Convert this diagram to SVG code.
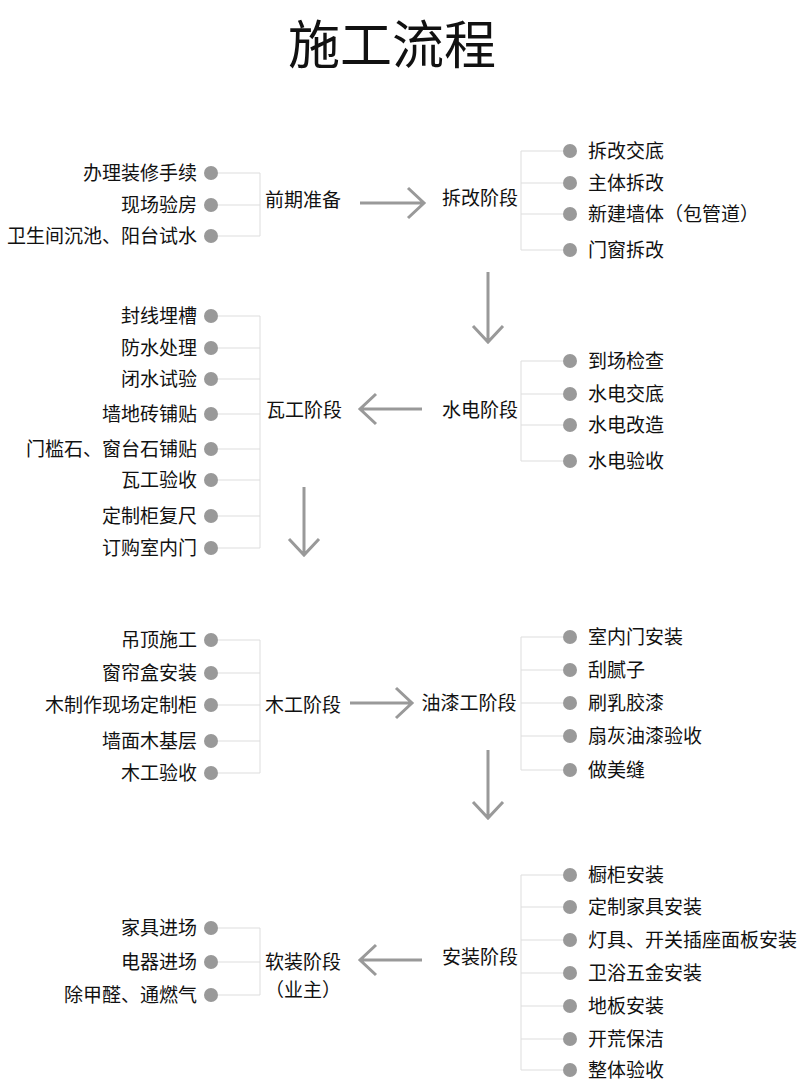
<svg xmlns="http://www.w3.org/2000/svg" width="800" height="1083" viewBox="0 0 800 1083">
<style>
text{font-family:"Noto Sans CJK SC","Noto Sans",sans-serif;fill:#111;font-size:19px}
.l{text-anchor:end}
.d{fill:#999}
.b{stroke:#ddd;stroke-width:1;fill:none}
.a{stroke:#999;stroke-width:3;fill:none}
</style>
<rect width="800" height="1083" fill="#fff"/>
<text x="392" y="64" text-anchor="middle" style="font-size:52px">施工流程</text>
<g id="connectors">
<path class="b" d="M218 173H260M218 205H260M218 236H260M260 173V236"/>
<path class="b" d="M521 151H563M521 183H563M521 214H563M521 250H563M521 151V250"/>
<path class="b" d="M521 361H563M521 394H563M521 425H563M521 461H563M521 361V461"/>
<path class="b" d="M218 316H260M218 348H260M218 379H260M218 414H260M218 449H260M218 480H260M218 516H260M218 548H260M260 316V548"/>
<path class="b" d="M218 640H260M218 673H260M218 705H260M218 741H260M218 773H260M260 640V773"/>
<path class="b" d="M521 637H563M521 670H563M521 703H563M521 736H563M521 770H563M521 637V770"/>
<path class="b" d="M521 875H563M521 907H563M521 940H563M521 973H563M521 1006H563M521 1039H563M521 1070H563M521 875V1070"/>
<path class="b" d="M218 928H260M218 962H260M218 995H260M260 928V995"/>
<path class="a" d="M360 203H424M408 188L424 203L408 218"/>
<path class="a" d="M488 272V342M473 326L488 342L503 326"/>
<path class="a" d="M422 409H360M376 394L360 409L376 424"/>
<path class="a" d="M304 487V555M289 539L304 555L319 539"/>
<path class="a" d="M350 703H412M396 688L412 703L396 718"/>
<path class="a" d="M488 750V818M473 802L488 818L503 802"/>
<path class="a" d="M422 960H360M376 945L360 960L376 975"/>
</g>
<g id="n1"><text x="303" y="207" text-anchor="middle">前期准备</text>
<circle class="d" cx="211" cy="173" r="7"/><text class="l" x="197" y="180">办理装修手续</text>
<circle class="d" cx="211" cy="205" r="7"/><text class="l" x="197" y="212">现场验房</text>
<circle class="d" cx="211" cy="236" r="7"/><text class="l" x="197" y="243">卫生间沉池、阳台试水</text></g>
<g id="n2"><text x="480" y="205" text-anchor="middle">拆改阶段</text>
<circle class="d" cx="570" cy="151" r="7"/><text x="588" y="158">拆改交底</text>
<circle class="d" cx="570" cy="183" r="7"/><text x="588" y="190">主体拆改</text>
<circle class="d" cx="570" cy="214" r="7"/><text x="588" y="221">新建墙体（包管道）</text>
<circle class="d" cx="570" cy="250" r="7"/><text x="588" y="257">门窗拆改</text></g>
<g id="n3"><text x="480" y="417" text-anchor="middle">水电阶段</text>
<circle class="d" cx="570" cy="361" r="7"/><text x="588" y="368">到场检查</text>
<circle class="d" cx="570" cy="394" r="7"/><text x="588" y="401">水电交底</text>
<circle class="d" cx="570" cy="425" r="7"/><text x="588" y="432">水电改造</text>
<circle class="d" cx="570" cy="461" r="7"/><text x="588" y="468">水电验收</text></g>
<g id="n4"><text x="304" y="417" text-anchor="middle">瓦工阶段</text>
<circle class="d" cx="211" cy="316" r="7"/><text class="l" x="197" y="323">封线埋槽</text>
<circle class="d" cx="211" cy="348" r="7"/><text class="l" x="197" y="355">防水处理</text>
<circle class="d" cx="211" cy="379" r="7"/><text class="l" x="197" y="386">闭水试验</text>
<circle class="d" cx="211" cy="414" r="7"/><text class="l" x="197" y="421">墙地砖铺贴</text>
<circle class="d" cx="211" cy="449" r="7"/><text class="l" x="197" y="456">门槛石、窗台石铺贴</text>
<circle class="d" cx="211" cy="480" r="7"/><text class="l" x="197" y="487">瓦工验收</text>
<circle class="d" cx="211" cy="516" r="7"/><text class="l" x="197" y="523">定制柜复尺</text>
<circle class="d" cx="211" cy="548" r="7"/><text class="l" x="197" y="555">订购室内门</text></g>
<g id="n5"><text x="303" y="712" text-anchor="middle">木工阶段</text>
<circle class="d" cx="211" cy="640" r="7"/><text class="l" x="197" y="647">吊顶施工</text>
<circle class="d" cx="211" cy="673" r="7"/><text class="l" x="197" y="680">窗帘盒安装</text>
<circle class="d" cx="211" cy="705" r="7"/><text class="l" x="197" y="712">木制作现场定制柜</text>
<circle class="d" cx="211" cy="741" r="7"/><text class="l" x="197" y="748">墙面木基层</text>
<circle class="d" cx="211" cy="773" r="7"/><text class="l" x="197" y="780">木工验收</text></g>
<g id="n6"><text x="469" y="710" text-anchor="middle">油漆工阶段</text>
<circle class="d" cx="570" cy="637" r="7"/><text x="588" y="644">室内门安装</text>
<circle class="d" cx="570" cy="670" r="7"/><text x="588" y="677">刮腻子</text>
<circle class="d" cx="570" cy="703" r="7"/><text x="588" y="710">刷乳胶漆</text>
<circle class="d" cx="570" cy="736" r="7"/><text x="588" y="743">扇灰油漆验收</text>
<circle class="d" cx="570" cy="770" r="7"/><text x="588" y="777">做美缝</text></g>
<g id="n7"><text x="480" y="964" text-anchor="middle">安装阶段</text>
<circle class="d" cx="570" cy="875" r="7"/><text x="588" y="882">橱柜安装</text>
<circle class="d" cx="570" cy="907" r="7"/><text x="588" y="914">定制家具安装</text>
<circle class="d" cx="570" cy="940" r="7"/><text x="588" y="947">灯具、开关插座面板安装</text>
<circle class="d" cx="570" cy="973" r="7"/><text x="588" y="980">卫浴五金安装</text>
<circle class="d" cx="570" cy="1006" r="7"/><text x="588" y="1013">地板安装</text>
<circle class="d" cx="570" cy="1039" r="7"/><text x="588" y="1046">开荒保洁</text>
<circle class="d" cx="570" cy="1070" r="7"/><text x="588" y="1077">整体验收</text></g>
<g id="n8"><text x="303" y="969" text-anchor="middle">软装阶段</text><text x="303" y="997" text-anchor="middle">（业主）</text>
<circle class="d" cx="211" cy="928" r="7"/><text class="l" x="197" y="935">家具进场</text>
<circle class="d" cx="211" cy="962" r="7"/><text class="l" x="197" y="969">电器进场</text>
<circle class="d" cx="211" cy="995" r="7"/><text class="l" x="197" y="1002">除甲醛、通燃气</text></g>
</svg>
